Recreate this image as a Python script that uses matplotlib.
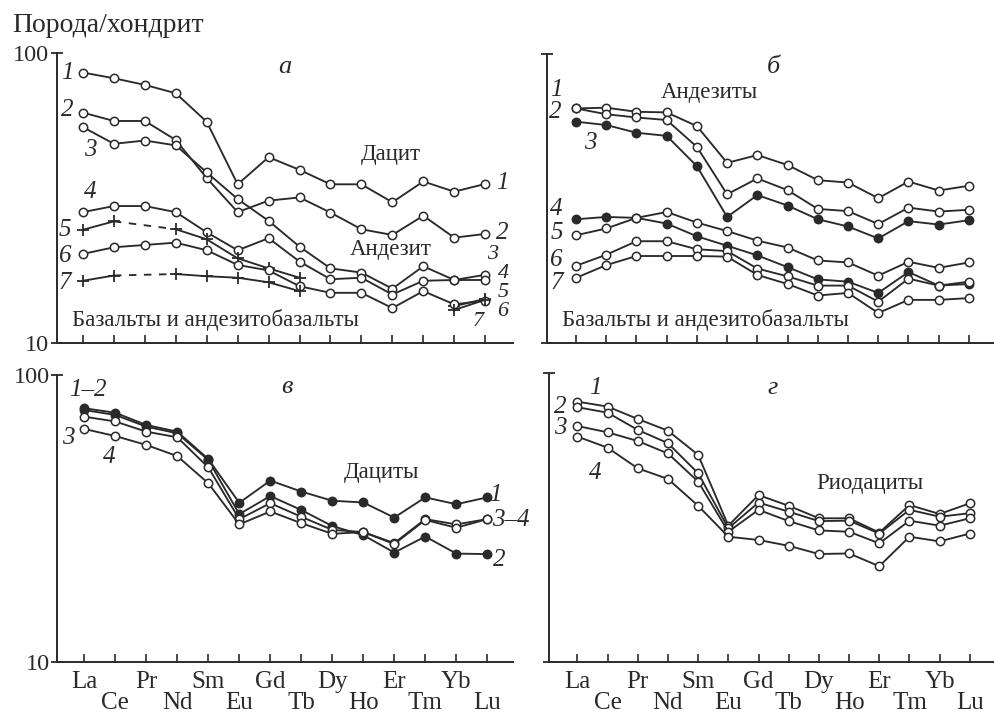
import numpy as np
import matplotlib
matplotlib.use('Agg')
import matplotlib.pyplot as plt

plt.rcParams['font.family'] = ['Liberation Serif', 'DejaVu Serif']

# ---------------- data ----------------
elements = ['La', 'Ce', 'Pr', 'Nd', 'Sm', 'Eu', 'Gd', 'Tb', 'Dy', 'Ho', 'Er', 'Tm', 'Yb', 'Lu']
nan = np.nan

# panel а
a1 = [85.8, 82.0, 77.8, 72.8, 58.0, 35.3, 43.8, 39.6, 35.3, 35.3, 30.6, 36.1, 33.3, 35.4]
a2 = [62.4, 58.4, 58.4, 50.2, 37.1, 28.3, 31.0, 31.8, 28.2, 24.7, 23.6, 27.5, 23.1, 23.8]
a3 = [55.6, 48.7, 50.0, 48.1, 38.8, 31.4, 26.4, 21.5, 18.1, 17.5, 15.4, 18.4, 16.5, 17.2]
a4 = [28.3, 29.7, 29.7, 28.3, 24.1, 20.9, 23.0, 19.1, 16.6, 16.8, 14.7, 16.4, 16.5, 16.5]
a5 = [24.6, 26.3, nan, 24.7, 22.8, 19.6, 18.1, 16.8, nan, nan, nan, nan, 13.4, 14.2]
a6 = [20.3, 21.4, 21.8, 22.2, 20.9, 18.6, 17.8, 15.7, 14.9, 14.9, 13.2, 15.1, 13.6, 14.0]
a7 = [16.4, 17.1, nan, 17.3, 17.0, 16.8, 16.2, 15.1, nan, nan, nan, nan, 13.0, 14.1]

# panel б
b1 = [64.8, 65.2, 63.1, 62.8, 56.3, 42.0, 44.7, 41.3, 36.6, 35.9, 31.7, 36.2, 33.7, 35.0]
b2 = [64.8, 61.9, 60.3, 59.1, 47.7, 32.7, 37.1, 33.8, 29.1, 28.6, 25.8, 29.4, 28.5, 28.9]
b3 = [58.3, 56.8, 53.4, 52.1, 40.9, 27.3, 32.5, 29.9, 26.8, 25.3, 23.0, 26.4, 25.7, 26.6]
b4 = [26.8, 27.3, 27.1, 25.9, 23.4, 21.7, 20.1, 18.3, 16.6, 16.3, 14.9, 17.6, 15.8, 16.0]
b5 = [23.6, 24.9, 27.1, 28.4, 26.1, 24.4, 22.6, 21.4, 19.3, 19.0, 17.1, 19.1, 18.2, 19.0]
b6 = [18.5, 20.2, 22.5, 22.5, 21.1, 20.8, 18.1, 17.0, 15.8, 15.8, 13.9, 16.7, 15.8, 16.3]
b7 = [16.8, 18.6, 20.0, 20.0, 20.0, 19.9, 17.2, 16.0, 14.6, 14.9, 12.7, 14.1, 14.1, 14.3]

# panel в
c1 = [76.6, 73.9, 67.0, 63.5, 51.0, 35.9, 42.9, 39.3, 36.5, 36.0, 31.9, 37.5, 35.5, 37.5]
c2 = [75.5, 72.6, 66.1, 62.7, 50.6, 32.8, 37.9, 33.9, 29.8, 27.7, 24.1, 27.4, 23.9, 23.8]
c3 = [71.6, 68.9, 63.5, 60.7, 47.7, 31.5, 35.8, 32.1, 28.9, 28.4, 26.0, 31.5, 30.2, 31.5]
c4 = [64.9, 61.3, 57.1, 52.2, 42.0, 30.2, 33.5, 30.5, 28.0, 28.4, 25.8, 31.3, 29.4, 31.5]

# panel г
d1 = [79.8, 76.7, 69.5, 63.3, 52.2, 29.7, 37.9, 34.8, 31.5, 31.5, 28.1, 35.0, 32.6, 35.5]
d2 = [76.3, 73.1, 63.7, 57.3, 45.1, 29.1, 35.7, 33.2, 30.8, 30.9, 27.9, 33.7, 31.9, 32.8]
d3 = [65.7, 62.5, 58.3, 52.8, 42.2, 28.3, 33.7, 30.8, 28.6, 28.3, 25.8, 30.9, 29.7, 31.5]
d4 = [60.4, 55.3, 46.9, 43.1, 34.8, 27.2, 26.5, 25.3, 23.7, 23.8, 21.5, 27.2, 26.2, 27.9]

y_label = 'Порода/хондрит'
y_ticks = [10, 100]
y_tick_labels = ['10', '100']

# ---------------- drawing ----------------
W, H = 994, 716
fig = plt.figure(figsize=(W / 100, H / 100), dpi=100)
fig.patch.set_facecolor('white')
INK = '#2a2a2a'
LW = 1.35


def axes_px(left, top, right, bottom):
    return fig.add_axes([left / W, 1 - bottom / H, (right - left) / W, (bottom - top) / H])


def setup(ax, xlim, ylabels, xlabels):
    ax.set_yscale('log')
    ax.set_ylim(10, 100)
    ax.set_xlim(*xlim)
    ax.patch.set_alpha(0)
    for s in ('top', 'right'):
        ax.spines[s].set_visible(False)
    for s in ('left', 'bottom'):
        ax.spines[s].set_linewidth(1.4)
        ax.spines[s].set_color(INK)
    ax.set_yticks(y_ticks, labels=y_tick_labels if ylabels else ['', ''])
    ax.set_yticks([], minor=True)
    ax.tick_params(axis='y', which='major', direction='inout', length=9, width=1.3,
                   colors=INK, labelsize=17.5, pad=1)
    # upper row of element labels on major ticks, lower row on minor ticks
    x = np.arange(len(elements))
    up = x[::2]
    lo = x[1::2]
    ax.set_xticks(up, labels=[elements[i] for i in up] if xlabels else [''] * len(up))
    ax.set_xticks(lo, labels=[elements[i] for i in lo] if xlabels else [''] * len(lo),
                  minor=True)
    ax.tick_params(axis='x', which='major', direction='in', length=6, width=1.2,
                   colors=INK, labelsize=18, pad=6.5)
    ax.tick_params(axis='x', which='minor', direction='in', length=6, width=1.2,
                   colors=INK, labelsize=18, pad=21.5)


def series(ax, vals, kind='open', gaps=()):
    x = np.arange(len(elements))
    y = np.asarray(vals, float)
    if kind == 'plus':
        ax.plot(x, y, color=INK, lw=LW, marker='+', ms=9, mew=1.3, zorder=3)
    else:
        mfc = INK if kind == 'filled' else 'white'
        ax.plot(x, y, color=INK, lw=LW, marker='o', ms=6, mfc=mfc, mec=INK,
                mew=1.1, zorder=3, clip_on=False)
    for i, j in gaps:
        ax.plot([x[i], x[j]], [y[i], y[j]], color=INK, lw=LW, ls=(0, (4, 4)), zorder=2)


def txt(ax, x, y, s, size=16.5, italic=False, ha='center', ls=1.2):
    ax.text(x, y, s, fontsize=size, fontstyle='italic' if italic else 'normal',
            ha=ha, va='center', color=INK, linespacing=ls)


NUM = 18

# Panel а
ax = axes_px(57, 53.3, 513, 343)
setup(ax, (-0.84, 13.9), True, False)
series(ax, a1)
series(ax, a2)
series(ax, a3)
series(ax, a4)
series(ax, a5, 'plus', gaps=[(1, 3)])
series(ax, a6)
series(ax, a7, 'plus', gaps=[(1, 3)])
txt(ax, 6.54, 89.7, 'а', size=19, italic=True)
txt(ax, 9.94, 44.6, 'Дацит')
txt(ax, 9.94, 21.0, 'Андезит')
txt(ax, -0.36, 12.0, 'Базальты и андезитобазальты', ha='left')
for s, x, y in [('1', -0.52, 85.5), ('2', -0.52, 63.7), ('3', 0.23, 46.4), ('4', 0.23, 33.2),
                ('5', -0.58, 24.6), ('6', -0.58, 19.9), ('7', -0.58, 16.1),
                ('1', 13.56, 35.7), ('2', 13.56, 24.0)]:
    txt(ax, x, y, s, size=NUM, italic=True)
txt(ax, 13.25, 20.2, '3', size=16, italic=True)
txt(ax, 13.58, 14.95, '4\n5\n6', size=16, italic=True, ls=1.02)
txt(ax, 12.78, 11.85, '7', size=16, italic=True)

# Panel б
ax = axes_px(547, 54, 994, 343)
setup(ax, (-0.96, 13.83), False, False)
series(ax, b1)
series(ax, b2)
series(ax, b3, 'filled')
series(ax, b4, 'filled')
series(ax, b5)
series(ax, b6)
series(ax, b7)
txt(ax, 6.52, 90.2, 'б', size=19, italic=True)
txt(ax, 4.4, 73.8, 'Андезиты')
txt(ax, -0.47, 12.0, 'Базальты и андезитобазальты', ha='left')
for s, x, y in [('1', -0.64, 75.1), ('2', -0.70, 63.1), ('3', 0.46, 49.1), ('4', -0.64, 29.2),
                ('5', -0.64, 24.0), ('6', -0.64, 19.4), ('7', -0.64, 16.1)]:
    txt(ax, x, y, s, size=NUM, italic=True)

# Panel в
ax = axes_px(57.3, 375, 513, 662.3)
setup(ax, (-0.87, 13.83), True, True)
series(ax, c1, 'filled')
series(ax, c2, 'filled')
series(ax, c3)
series(ax, c4)
txt(ax, 6.54, 90.8, 'в', size=19, italic=True)
txt(ax, 9.59, 45.6, 'Дациты')
for s, x, y in [('1–2', 0.12, 88.7), ('3', -0.53, 60.4), ('4', 0.8, 51.9),
                ('1', 13.25, 38.2), ('3–4', 13.76, 31.3), ('2', 13.4, 22.7)]:
    txt(ax, x, y, s, size=NUM, italic=True)

# Panel г
ax = axes_px(549.3, 373.3, 994, 662.3)
setup(ax, (-0.93, 13.8), False, True)
series(ax, d1)
series(ax, d2)
series(ax, d3)
series(ax, d4)
txt(ax, 6.47, 89.1, 'г', size=19, italic=True)
txt(ax, 9.69, 41.7, 'Риодациты')
for s, x, y in [('1', 0.59, 88.7), ('2', -0.57, 76.6), ('3', -0.57, 64.5), ('4', 0.59, 45.1)]:
    txt(ax, x, y, s, size=NUM, italic=True)

fig.text(12 / W, 1 - 25 / H, y_label, fontsize=20, ha='left', va='center', color=INK)

fig.savefig('out.png', dpi=100, facecolor='white')
